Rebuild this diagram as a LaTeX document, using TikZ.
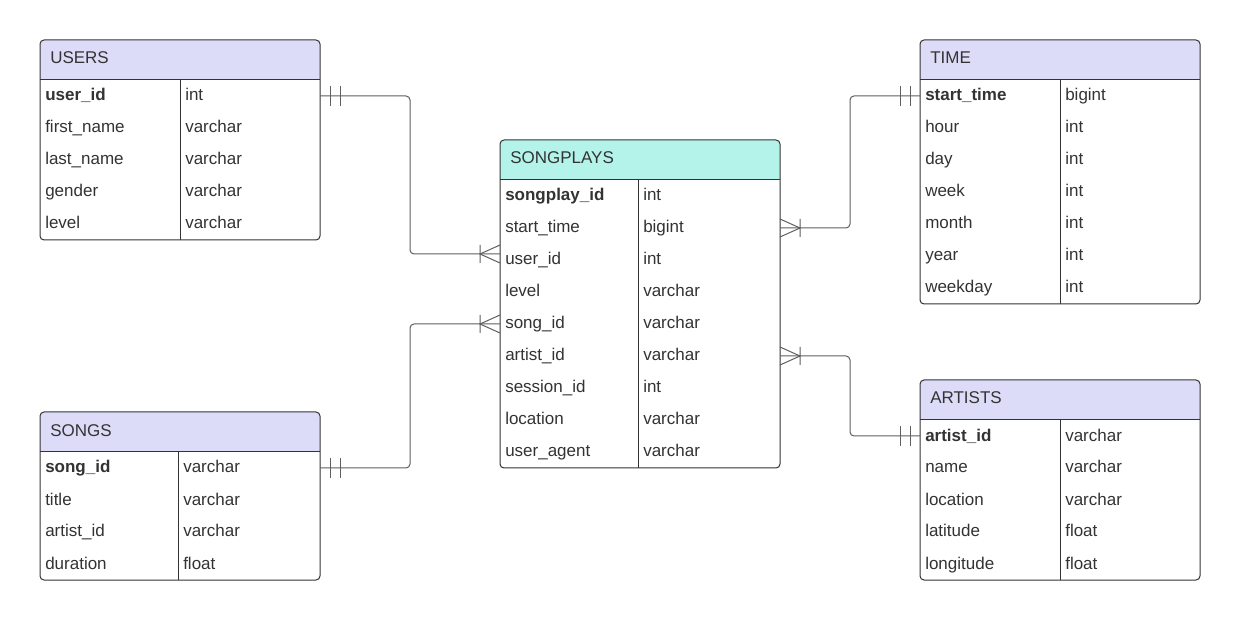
\documentclass[tikz,border=0pt]{standalone}
\usepackage{fontspec}
\setmainfont{Liberation Sans}
\usetikzlibrary{calc}
\definecolor{hdrpurple}{RGB}{220,220,248}
\definecolor{hdrteal}{RGB}{180,243,234}
\definecolor{txtgray}{RGB}{51,51,51}
\definecolor{edgegray}{RGB}{51,51,51}
\definecolor{conngray}{RGB}{95,95,95}
\tikzset{
  tbl/.style={draw=edgegray, line width=0.75pt},
  tblbox/.style={draw=edgegray, line width=0.75pt, rounded corners=3pt},
  ttl/.style={anchor=base west, inner sep=0pt, text=txtgray, font=\fontsize{12.75}{15}\selectfont},
  cell/.style={anchor=base west, inner sep=0pt, text=txtgray, font=\fontsize{12.75}{15}\selectfont},
  conn/.style={draw=conngray, line width=0.75pt, rounded corners=3pt},
  markline/.style={draw=conngray, line width=0.75pt}
}
\newcommand{\erdtable}[8]{%
  \begin{scope}
    \clip[rounded corners=3pt] (#2,#3) rectangle ++(280,{40+32*#7});
    \fill[#6] (#2,#3) rectangle ++(280,40);
  \end{scope}
  \draw[tblbox] (#2,#3) rectangle ++(280,{40+32*#7});
  \draw[tbl] (#2,#3+40) -- ++(280,0);
  \draw[tbl] (#2+#4,#3+40) -- (#2+#4,{#3+40+32*#7});
  \node[ttl] (#1-title) at (#2+10,#3+24) {#5};
  \foreach \f/\t [count=\i] in {#8} {
    \node[cell] (#1-f\i) at (#2+5,{#3+40+32*(\i-1)+21}) {\f};
    \node[cell] (#1-t\i) at (#2+#4+5,{#3+40+32*(\i-1)+21}) {\t};
    \coordinate (#1-w\i) at (#2,{#3+40+32*(\i-1)+16});
    \coordinate (#1-e\i) at (#2+280,{#3+40+32*(\i-1)+16});
  }
}
\newcommand{\crowfoot}[2]{%
  \begin{scope}[shift={(#1)},xscale=#2]
    \draw[markline] (-20,-9) -- (-20,9) (0,-9) -- (-20,0) -- (0,9);
  \end{scope}}
\newcommand{\onlyone}[2]{%
  \begin{scope}[shift={(#1)},xscale=#2]
    \draw[markline] (10,-10) -- (10,10) (20,-10) -- (20,10);
  \end{scope}}
\begin{document}
\begin{tikzpicture}[x=0.75pt,y=-0.75pt]
\useasboundingbox (0,0) rectangle (1240,620);
\fill[white] (0,0) rectangle (1240,620);

\erdtable{users}{40}{40}{140}{USERS}{hdrpurple}{5}{\textbf{user\_id}/int, first\_name/varchar, last\_name/varchar, gender/varchar, level/varchar}
\erdtable{time}{920}{40}{140}{TIME}{hdrpurple}{7}{\textbf{start\_time}/bigint, hour/int, day/int, week/int, month/int, year/int, weekday/int}
\erdtable{sp}{500}{140}{138}{SONGPLAYS}{hdrteal}{9}{\textbf{songplay\_id}/int, start\_time/bigint, user\_id/int, level/varchar, song\_id/varchar, artist\_id/varchar, session\_id/int, location/varchar, user\_agent/varchar}
\erdtable{songs}{40}{412}{138}{SONGS}{hdrpurple}{4}{\textbf{song\_id}/varchar, title/varchar, artist\_id/varchar, duration/float}
\erdtable{artists}{920}{380}{140}{ARTISTS}{hdrpurple}{5}{\textbf{artist\_id}/varchar, name/varchar, location/varchar, latitude/float, longitude/float}

\coordinate (spuser) at ($(sp-w3)+(0,-6)$);
\draw[conn] (users-e1) -| ($(spuser)+(-90,0)$) -- (spuser);
\draw[conn] (songs-e1) -| ($(sp-w5)+(-90,0)$) -- (sp-w5);
\draw[conn] (sp-e2) -| ($(time-w1)+(-70,0)$) -- (time-w1);
\draw[conn] (sp-e6) -| ($(artists-w1)+(-70,0)$) -- (artists-w1);

\onlyone{users-e1}{1}
\onlyone{songs-e1}{1}
\onlyone{time-w1}{-1}
\onlyone{artists-w1}{-1}
\crowfoot{spuser}{1}
\crowfoot{sp-w5}{1}
\crowfoot{sp-e2}{-1}
\crowfoot{sp-e6}{-1}
\end{tikzpicture}
\end{document}
